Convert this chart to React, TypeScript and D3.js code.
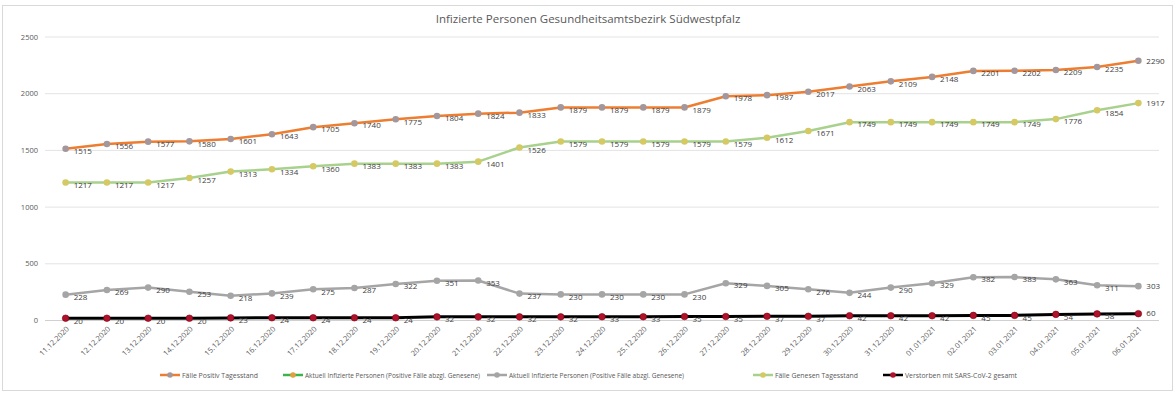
import React, { useEffect } from 'react';
import * as d3 from 'd3';

const width = 1176;
const height = 396;
const margin = { top: 37, right: 17, bottom: 75.5, left: 45 };

const dates = [
  '11.12.2020', '12.12.2020', '13.12.2020', '14.12.2020', '15.12.2020', '16.12.2020', '17.12.2020',
  '18.12.2020', '19.12.2020', '20.12.2020', '21.12.2020', '22.12.2020', '23.12.2020', '24.12.2020',
  '25.12.2020', '26.12.2020', '27.12.2020', '28.12.2020', '29.12.2020', '30.12.2020', '31.12.2020',
  '01.01.2021', '02.01.2021', '03.01.2021', '04.01.2021', '05.01.2021', '06.01.2021',
];

const positiv = [1515, 1556, 1577, 1580, 1601, 1643, 1705, 1740, 1775, 1804, 1824, 1833, 1879, 1879,
  1879, 1879, 1978, 1987, 2017, 2063, 2109, 2148, 2201, 2202, 2209, 2235, 2290];
const genesen = [1217, 1217, 1217, 1257, 1313, 1334, 1360, 1383, 1383, 1383, 1401, 1526, 1579, 1579,
  1579, 1579, 1579, 1612, 1671, 1749, 1749, 1749, 1749, 1749, 1776, 1854, 1917];
const aktuell = [228, 269, 290, 253, 218, 239, 275, 287, 322, 351, 353, 237, 230, 230,
  230, 230, 329, 305, 276, 244, 290, 329, 382, 383, 363, 311, 303];
const verstorben = [20, 20, 20, 20, 23, 24, 24, 24, 24, 32, 32, 32, 32, 33,
  33, 35, 35, 37, 37, 42, 42, 42, 45, 45, 54, 58, 60];

const yTicks = [0, 500, 1000, 1500, 2000, 2500];

// drawing order: gray, green, orange, black on top
const series = [
  { name: 'Aktuell Infizierte Personen (Positive Fälle abzgl. Genesene)', values: aktuell, line: '#A5A5A5', marker: '#A5A5A5', w: 2.5 },
  { name: 'Fälle Genesen Tagesstand', values: genesen, line: '#A9D18E', marker: '#D5C964', w: 2.5 },
  { name: 'Fälle Positiv Tagesstand', values: positiv, line: '#ED7D31', marker: '#A3979C', w: 2.5 },
  { name: 'Verstorben mit SARS-CoV-2 gesamt', values: verstorben, line: '#000000', marker: '#B0112B', w: 3 },
];

const legend = [
  { name: 'Fälle Positiv Tagesstand', line: '#ED7D31', marker: '#A3979C', x: 160, len: 76 },
  { name: 'Aktuell Infizierte Personen (Positive Fälle abzgl. Genesene)', line: '#3CB44B', marker: '#E0A040', x: 283, len: 175 },
  { name: 'Aktuell Infizierte Personen (Positive Fälle abzgl. Genesene)', line: '#A5A5A5', marker: '#A5A5A5', x: 487, len: 175 },
  { name: 'Fälle Genesen Tagesstand', line: '#A9D18E', marker: '#D5C964', x: 753, len: 83 },
  { name: 'Verstorben mit SARS-CoV-2 gesamt', line: '#000000', marker: '#B0112B', x: 883, len: 112 },
];

const font = '"Open Sans", "DejaVu Sans", sans-serif';

export default function App() {
  useEffect(() => {
    document.body.style.margin = '0';
  }, []);

  const x = d3.scalePoint<string>()
    .domain(dates)
    .range([margin.left, width - margin.right])
    .padding(0.5);
  const y = d3.scaleLinear()
    .domain([0, 2500])
    .range([height - margin.bottom, margin.top]);

  const line = d3.line<number>()
    .x((_, i) => x(dates[i]) as number)
    .y(d => y(d));

  return (
    <svg width={width} height={height} style={{ display: 'block', fontFamily: font }}>
      <rect x={0} y={0} width={width} height={height} fill="#fff" />
      <rect x={2.5} y={5.5} width={1170} height={385} fill="none" stroke="#D9D9D9" />
      <text x={588} y={23} textAnchor="middle" fontSize={11.5} fill="#595959">
        Infizierte Personen Gesundheitsamtsbezirk Südwestpfalz
      </text>

      {yTicks.map(t => (
        <g key={t}>
          <line x1={margin.left} x2={width - margin.right} y1={y(t)} y2={y(t)}
            stroke={t === 0 ? '#D0D0D0' : '#E3E3E3'} strokeWidth={1} />
          <text x={38} y={y(t)} dy="0.35em" textAnchor="end" fontSize={7.5} fill="#595959">{t}</text>
        </g>
      ))}

      {dates.map(d => (
        <text key={d} transform={`translate(${(x(d) as number) + 4},${y(0) + 9}) rotate(-45)`}
          textAnchor="end" fontSize={7.5} fill="#595959">{d}</text>
      ))}

      {series.map(s => (
        <g key={s.name + s.line}>
          <path d={line(s.values) || ''} fill="none" stroke={s.line} strokeWidth={s.w} strokeLinejoin="round" />
          {s.values.map((v, i) => (
            <circle key={i} cx={x(dates[i])} cy={y(v)} r={3.3} fill={s.marker}
              stroke={s.line === '#000000' ? '#7a0010' : 'none'} strokeWidth={0.6} />
          ))}
          {s.values.map((v, i) => (
            <text key={'l' + i} x={(x(dates[i]) as number) + 8} y={y(v) + (i === dates.length - 1 ? 0 : 2.5)}
              dy="0.35em" fontSize={8} fill="#404040">{v}</text>
          ))}
        </g>
      ))}

      {legend.map((l, i) => (
        <g key={i} transform={`translate(${l.x},375)`}>
          <line x1={0} x2={20} y1={0} y2={0} stroke={l.line} strokeWidth={2.5} />
          <circle cx={10} cy={0} r={2.8} fill={l.marker} />
          <text x={22} y={0} dy="0.35em" fontSize={7.5} fill="#595959"
            textLength={l.len} lengthAdjust="spacingAndGlyphs">{l.name}</text>
        </g>
      ))}
    </svg>
  );
}
